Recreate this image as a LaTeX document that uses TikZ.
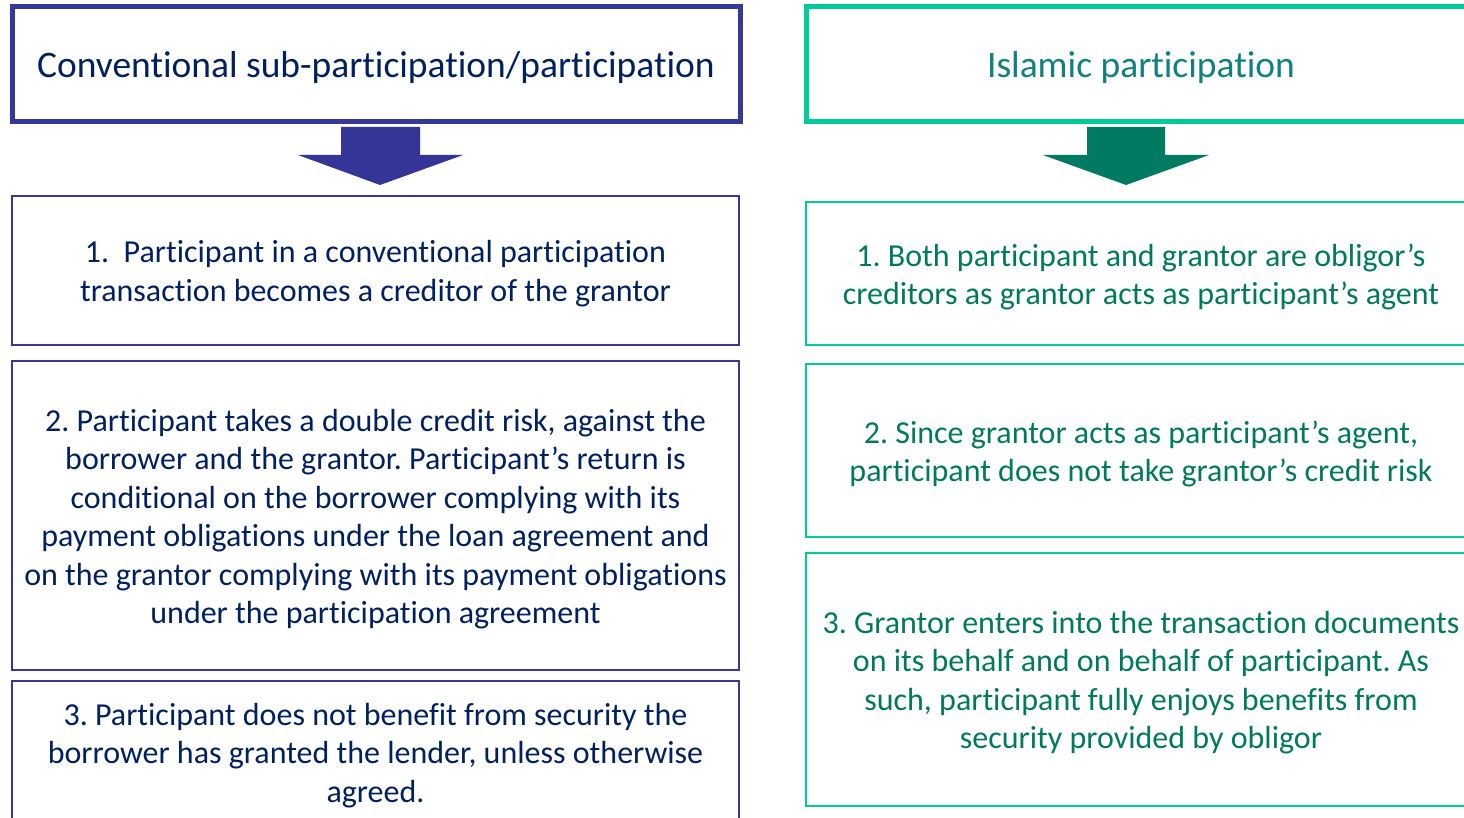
\documentclass[tikz,border=0pt]{standalone}
\usepackage{fontspec}
\setmainfont{Carlito}[Ligatures={NoCommon}]
\frenchspacing
\definecolor{navyline}{RGB}{56,54,152}
\definecolor{navytext}{RGB}{0,32,96}
\definecolor{navyarrow}{RGB}{53,53,151}
\definecolor{greenline}{RGB}{0,204,153}
\definecolor{tealtext}{RGB}{16,128,128}
\definecolor{greenarrow}{RGB}{0,122,96}
\definecolor{greentext}{RGB}{0,122,94}
\tikzset{
  box/.style={draw, rectangle, inner sep=0pt},
  lhead/.style={box, draw=navyline, line width=5pt},
  lbox/.style={box, draw=navyline, line width=2.2pt},
  rhead/.style={box, draw=greenline, line width=5pt},
  rbox/.style={box, draw=greenline, line width=2.6pt},
  headtext/.style={font=\fontsize{37.5}{44}\selectfont, align=center},
  bodytext/.style={font=\fontsize{32}{38.5}\selectfont, align=center},
}
\begin{document}
\begin{tikzpicture}[x=1pt,y=-1pt]
\clip (0,0) rectangle (1464,818);
\fill[white] (0,0) rectangle (1464,818);

% Conventional column
\node[lhead, minimum width=728pt, minimum height=115pt] (lh) at (376,64.5) {};
\node[headtext, text=navytext] (lht) at (376,67.5) {Conventional sub-participation/participation};
\fill[navyarrow] (341,127) -- (420,127) -- (420,155) -- (463,155) -- (380,185) -- (298,155) -- (341,155) -- cycle;

\node[lbox, minimum width=727pt, minimum height=149pt] (l1) at (375.5,270.5) {};
\node[bodytext, text=navytext] (l1t) at (375.5,273.5) {1.\ \ Participant in a conventional participation\\transaction becomes a creditor of the grantor};

\node[lbox, minimum width=727pt, minimum height=309pt] (l2) at (375.5,515.5) {};
\node[bodytext, text=navytext] (l2t) at (375.5,519) {2. Participant takes a double credit risk, against the\\borrower and the grantor. Participant\char"0027 s return is\\conditional on the borrower complying with its\\payment obligations under the loan agreement and\\on the grantor complying with its payment obligations\\under the participation agreement};

\node[lbox, minimum width=727pt, minimum height=145pt] (l3) at (375.5,753.5) {};
\node[bodytext, text=navytext] (l3t) at (375.5,755.5) {3. Participant does not benefit from security the\\borrower has granted the lender, unless otherwise\\agreed.};

% Islamic column
\node[rhead, minimum width=670pt, minimum height=115pt] (rh) at (1141,64.5) {};
\node[headtext, text=tealtext] (rht) at (1141,67.5) {Islamic participation};
\fill[greenarrow] (1087,127) -- (1165,127) -- (1165,155) -- (1209,155) -- (1126,185) -- (1043,155) -- (1087,155) -- cycle;

\node[rbox, minimum width=670pt, minimum height=143pt] (r1) at (1141,273.5) {};
\node[bodytext, text=greentext] (r1t) at (1141,277) {1. Both participant and grantor are obligor’s\\creditors as grantor acts as participant’s agent};

\node[rbox, minimum width=670pt, minimum height=173pt] (r2) at (1141,450.5) {};
\node[bodytext, text=greentext] (r2t) at (1141,454) {2. Since grantor acts as participant’s agent,\\participant does not take grantor’s credit risk};

\node[rbox, minimum width=670pt, minimum height=253pt] (r3) at (1141,679.5) {};
\node[bodytext, text=greentext] (r3t) at (1141,682.5) {3. Grantor enters into the transaction documents\\on its behalf and on behalf of participant. As\\such, participant fully enjoys benefits from\\security provided by obligor};
\end{tikzpicture}
\end{document}
